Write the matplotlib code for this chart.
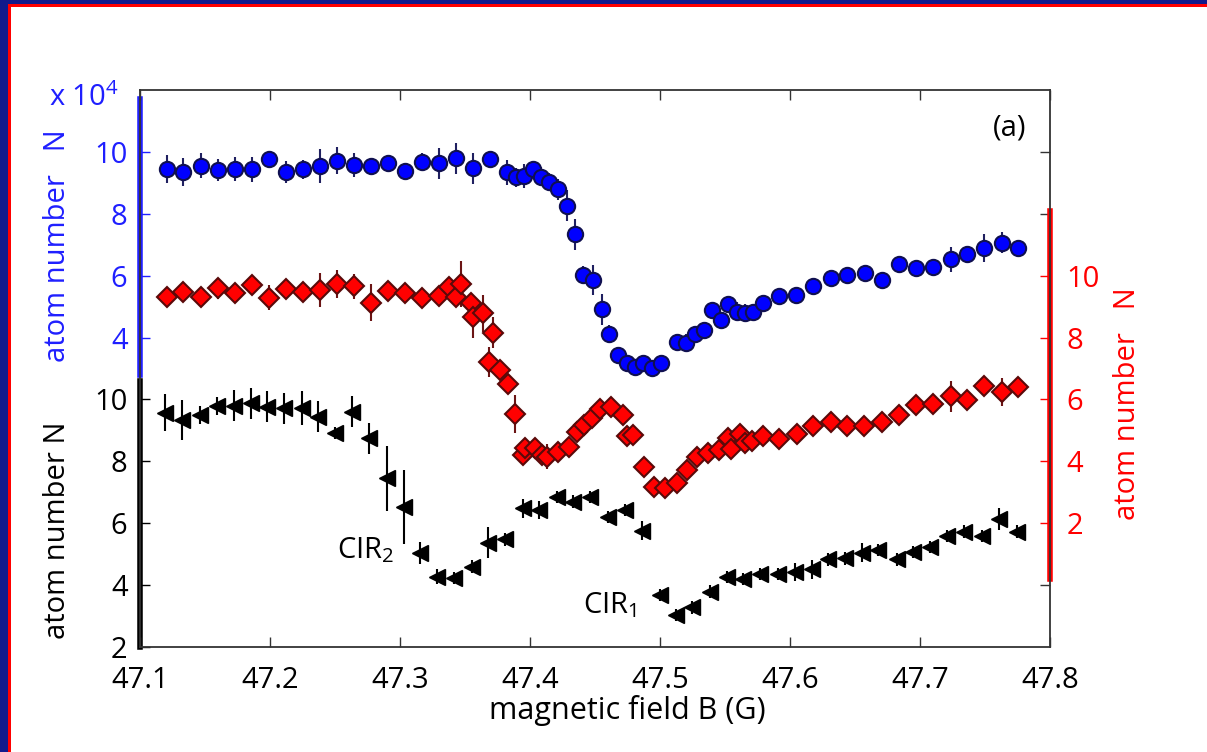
import matplotlib
matplotlib.use("Agg")
import matplotlib.pyplot as plt
from matplotlib.patches import Rectangle

plt.rcParams['font.family'] = ['Open Sans', 'DejaVu Sans']
plt.rcParams['mathtext.fontset'] = 'custom'
plt.rcParams['mathtext.rm'] = 'Open Sans'

# blue circles, atom number in units of 1e4
blue_x = [47.1205, 47.1333, 47.1467, 47.1598, 47.1731, 47.1859, 47.1995, 47.2121, 47.2252, 47.2385,
          47.2518, 47.2646, 47.2775, 47.2910, 47.3038, 47.3172, 47.3302, 47.3431, 47.3564, 47.3692,
          47.3821, 47.3890, 47.3956, 47.4021, 47.4085, 47.4148, 47.4218, 47.4282, 47.4346, 47.4410,
          47.4487, 47.4552, 47.4610, 47.4675, 47.4744, 47.4808, 47.4872, 47.4936, 47.5005, 47.5128,
          47.5200, 47.5269, 47.5338, 47.5398, 47.5467, 47.5525, 47.5590, 47.5654, 47.5718, 47.5790,
          47.5918, 47.6046, 47.6179, 47.6313, 47.6441, 47.6577, 47.6705, 47.6838, 47.6969, 47.7098,
          47.7236, 47.7364, 47.7495, 47.7628, 47.7756]
blue_y = [9.44, 9.36, 9.56, 9.42, 9.45, 9.44, 9.76, 9.36, 9.44, 9.55,
          9.72, 9.58, 9.55, 9.63, 9.38, 9.67, 9.63, 9.79, 9.47, 9.77,
          9.34, 9.18, 9.22, 9.44, 9.20, 9.02, 8.79, 8.26, 7.34, 6.02,
          5.86, 4.91, 4.12, 3.44, 3.17, 3.06, 3.19, 3.01, 3.19, 3.87,
          3.82, 4.12, 4.25, 4.89, 4.57, 5.09, 4.84, 4.80, 4.84, 5.11,
          5.34, 5.38, 5.65, 5.94, 6.02, 6.10, 5.86, 6.38, 6.24, 6.27,
          6.53, 6.70, 6.89, 7.07, 6.89]
blue_err = [.45, .45, .4, .35, .4, .4, .2, .35, .3, .55,
            .45, .4, .25, .25, .2, .3, .5, .5, .5, .2,
            .4, .3, .4, .25, .3, .3, .35, .5, .5, .3,
            .5, .5, .3, .2, .2, .2, .2, .2, .2, .2,
            .3, .2, .2, .2, .2, .2, .3, .3, .2, .2,
            .2, .2, .2, .2, .2, .2, .2, .2, .2, .2,
            .4, .2, .45, .35, .2]

# red diamonds
red_x = [47.1205, 47.1333, 47.1467, 47.1598, 47.1731, 47.1859, 47.1995, 47.2121, 47.2252, 47.2385,
         47.2518, 47.2646, 47.2775, 47.2910, 47.3038, 47.3172, 47.3302, 47.3379, 47.3431, 47.3469,
         47.3546, 47.3564, 47.3636, 47.3713, 47.3685, 47.3769, 47.3828, 47.3885, 47.3948, 47.3962,
         47.4038, 47.4090, 47.4128, 47.4218, 47.4302, 47.4359, 47.4415, 47.4475, 47.4538, 47.4621,
         47.4713, 47.4744, 47.4795, 47.4877, 47.4954, 47.5038, 47.5128, 47.5205, 47.5282, 47.5372,
         47.5456, 47.5525, 47.5544, 47.5615, 47.5654, 47.5705, 47.5790, 47.5918, 47.6052, 47.6179,
         47.6313, 47.6441, 47.6569, 47.6705, 47.6838, 47.6969, 47.7098, 47.7236, 47.7364, 47.7495,
         47.7628, 47.7756]
red_y = [9.30, 9.48, 9.32, 9.59, 9.43, 9.70, 9.29, 9.56, 9.46, 9.54,
         9.73, 9.65, 9.13, 9.52, 9.43, 9.29, 9.35, 9.63, 9.32, 9.73,
         9.13, 8.68, 8.79, 8.15, 7.21, 6.95, 6.50, 5.53, 4.21, 4.42,
         4.42, 4.21, 4.15, 4.31, 4.47, 4.96, 5.18, 5.39, 5.68, 5.77,
         5.50, 4.82, 4.85, 3.81, 3.18, 3.13, 3.31, 3.72, 4.13, 4.26,
         4.37, 4.75, 4.39, 4.88, 4.60, 4.67, 4.82, 4.72, 4.87, 5.14,
         5.28, 5.14, 5.14, 5.28, 5.50, 5.82, 5.85, 6.11, 5.98, 6.44,
         6.25, 6.39]
red_err = [.3, .3, .3, .35, .3, .3, .4, .3, .3, .55,
           .45, .4, .6, .3, .3, .3, .3, .3, .3, .75,
           .3, .7, .6, .5, .5, .3, .3, .6, .3, .3,
           .3, .3, .4, .3, .3, .3, .3, .3, .3, .3,
           .3, .3, .3, .3, .3, .3, .3, .3, .3, .3,
           .3, .3, .3, .3, .3, .3, .3, .3, .3, .3,
           .3, .3, .3, .3, .3, .3, .3, .5, .3, .3,
           .45, .3]

# black triangles
blk_x = [47.1192, 47.1321, 47.1462, 47.1595, 47.1723, 47.1852, 47.1979, 47.2108, 47.2244, 47.2372,
         47.2500, 47.2628, 47.2764, 47.2898, 47.3031, 47.3154, 47.3282, 47.3415, 47.3552, 47.3679,
         47.3808, 47.3948, 47.4072, 47.4205, 47.4333, 47.4462, 47.4602, 47.4731, 47.4859, 47.5000,
         47.5123, 47.5244, 47.5385, 47.5513, 47.5636, 47.5769, 47.5910, 47.6038, 47.6167, 47.6295,
         47.6423, 47.6552, 47.6679, 47.6825, 47.6948, 47.7077, 47.7210, 47.7338, 47.7475, 47.7610,
         47.7744]
blk_y = [9.57, 9.34, 9.50, 9.79, 9.79, 9.88, 9.77, 9.71, 9.71, 9.44,
         8.91, 9.61, 8.75, 7.45, 6.52, 5.03, 4.27, 4.22, 4.60, 5.37,
         5.48, 6.48, 6.43, 6.84, 6.70, 6.84, 6.21, 6.43, 5.76, 3.68,
         3.03, 3.28, 3.79, 4.27, 4.19, 4.36, 4.36, 4.43, 4.51, 4.83,
         4.86, 5.05, 5.13, 4.83, 5.08, 5.24, 5.59, 5.73, 5.59, 6.13,
         5.73]
blk_err = [.6, .65, .3, .3, .5, .5, .5, .5, .55, .5,
           .2, .5, .5, 1.05, 1.2, .35, .25, .2, .2, .5,
           .2, .3, .3, .2, .2, .2, .2, .2, .3, .2,
           .2, .2, .2, .2, .2, .2, .2, .3, .3, .2,
           .2, .3, .2, .2, .2, .2, .2, .2, .2, .35,
           .2]

x_ticks = [47.1, 47.2, 47.3, 47.4, 47.5, 47.6, 47.7, 47.8]
blk_ticks = [2, 4, 6, 8, 10]
blue_ticks = [4, 6, 8, 10]
red_ticks = [2, 4, 6, 8, 10]

BLUE = '#1f1fff'
RED = '#ff0000'
FS = 21

fig = plt.figure(figsize=(12.07, 7.52), dpi=100)
fig.patch.set_facecolor('white')

# slide border (top and left)
fig.add_artist(Rectangle((0, 1 - 4/752), 1, 4/752, transform=fig.transFigure, color='#111a8c', lw=0))
fig.add_artist(Rectangle((0, 1 - 7/752), 1, 3/752, transform=fig.transFigure, color='#ff0000', lw=0))
fig.add_artist(Rectangle((0, 0), 8/1207, 1, transform=fig.transFigure, color='#111a8c', lw=0))
fig.add_artist(Rectangle((8/1207, 0), 3/1207, 1 - 4/752, transform=fig.transFigure, color='#ff0000', lw=0))

ax = fig.add_axes([140/1207, 105/752, 910/1207, 557/752])
ax.set_xlim(47.1, 47.8)
ax.set_ylim(2, 20)
for s in ax.spines.values():
    s.set_color('#333333')
    s.set_linewidth(1.3)
ax.set_xticks(x_ticks)
ax.set_xticklabels(['%.1f' % v for v in x_ticks])
ax.set_yticks(blk_ticks)
ax.tick_params(axis='x', direction='in', top=True, length=7, width=1, labelsize=FS, pad=14, color='#333333')
ax.tick_params(axis='y', direction='in', left=True, right=False, length=7, width=1, labelsize=FS, pad=9)
ax.set_xlabel('magnetic field B (G)', fontsize=22, labelpad=0)
ax.xaxis.label.set_x(0.536)
ax.set_ylabel('atom number N', fontsize=FS)
ax.yaxis.set_label_coords(-0.075, 0.21)

# black thick left spine + extra right ticks
axk = ax.twinx()
axk.set_ylim(2, 20)
axk.spines['left'].set_visible(True)
axk.spines['left'].set_bounds(2, 10.6)
axk.spines['left'].set_linewidth(4)
axk.spines['left'].set_color('black')
for k in ['right', 'top', 'bottom']:
    axk.spines[k].set_visible(False)
axk.set_yticks([4, 16, 18])
axk.set_yticklabels([])
axk.tick_params(axis='y', direction='in', length=7, width=1, color='#333333')

# blue axis
axb = ax.twinx()
axb.set_ylim(-6, 12)
axb.yaxis.tick_left()
axb.yaxis.set_label_position('left')
for k in ['right', 'top', 'bottom']:
    axb.spines[k].set_visible(False)
axb.spines['left'].set_visible(True)
axb.spines['left'].set_bounds(2.8, 11.7)
axb.spines['left'].set_linewidth(4)
axb.spines['left'].set_color(BLUE)
axb.set_yticks(blue_ticks)
axb.tick_params(axis='y', direction='in', length=7, width=1, colors=BLUE, labelsize=FS, pad=9)
axb.set_ylabel('atom number   N', fontsize=FS, color=BLUE)
axb.yaxis.set_label_coords(-0.075, 0.72)
axb.text(-0.0615, 0.9856, 'x 10$^4$', transform=axb.transAxes, fontsize=FS, color=BLUE,
         ha='center', va='center')
axb.errorbar(blue_x, blue_y, yerr=blue_err, fmt='o', ms=11, mfc='#0000ff', mec='#101050',
             mew=1.5, ecolor='#202060', elinewidth=1.5, capsize=0, zorder=3)

# red axis
axr = ax.twinx()
axr.set_ylim(-2, 16)
for k in ['left', 'top', 'bottom']:
    axr.spines[k].set_visible(False)
axr.spines['right'].set_bounds(0.2, 12.1)
axr.spines['right'].set_linewidth(4)
axr.spines['right'].set_color(RED)
axr.set_yticks(red_ticks)
axr.tick_params(axis='y', direction='in', length=7, width=1, colors=RED, labelsize=FS, pad=12)
axr.set_ylabel('atom number   N', fontsize=FS, color=RED, rotation=90)
axr.yaxis.set_label_coords(1.069, 0.437)
axr.errorbar(red_x, red_y, yerr=red_err, fmt='D', ms=10, mfc='#ff0000', mec='#5a0a0a',
             mew=1.5, ecolor='#6b1515', elinewidth=1.5, capsize=0, zorder=3)

ax.errorbar(blk_x, blk_y, yerr=blk_err, fmt='<', ms=11, mfc='black', mec='black',
            ecolor='black', elinewidth=1.5, capsize=0, zorder=3)
ax.set_zorder(axr.get_zorder() + 1)
ax.patch.set_visible(False)

ax.text(0.956, 0.932, '(a)', transform=ax.transAxes, fontsize=FS, ha='center', va='center')
ax.text(47.2738, 5.13, 'CIR$_2$', fontsize=FS, ha='center', va='center')
ax.text(47.4615, 3.36, 'CIR$_1$', fontsize=FS, ha='center', va='center')

fig.savefig('out.png', dpi=100)
